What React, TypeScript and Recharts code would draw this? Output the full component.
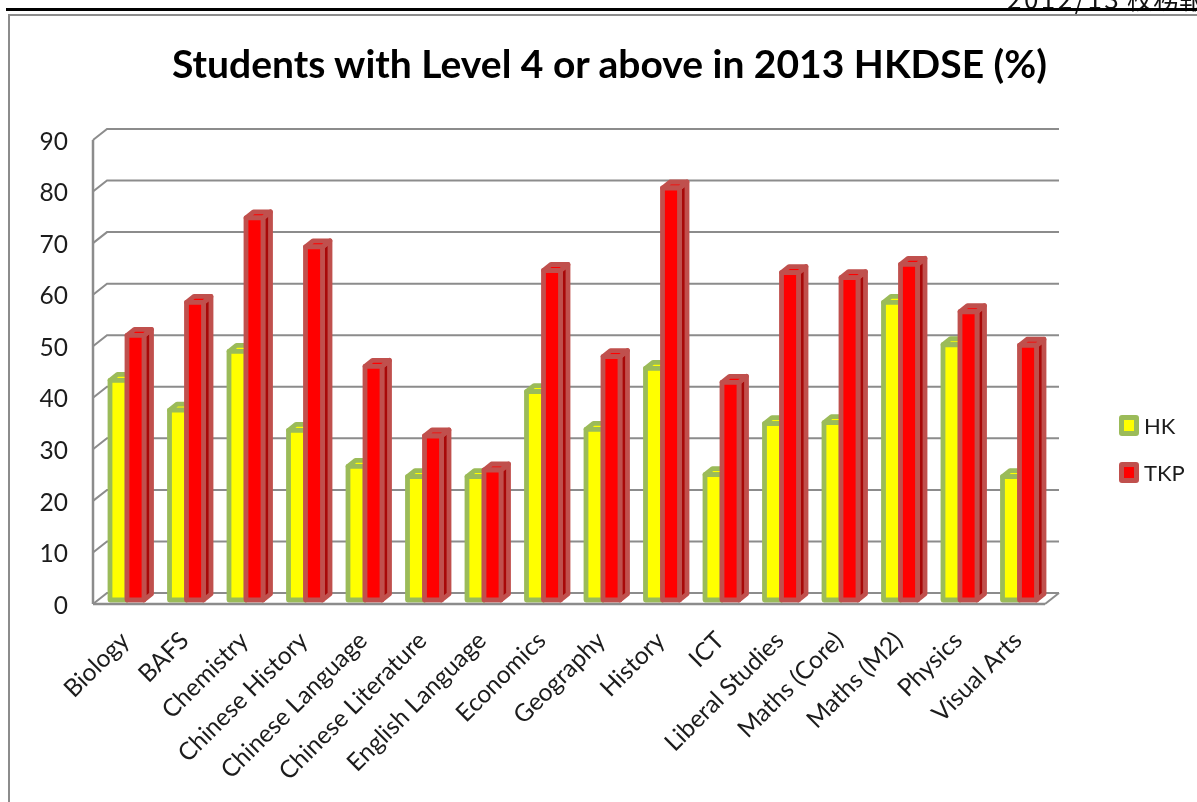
import React from "react";
import { BarChart, Bar, XAxis, YAxis, CartesianGrid, Legend } from "recharts";

const subjects = ["Biology","BAFS","Chemistry","Chinese History","Chinese Language","Chinese Literature","English Language","Economics","Geography","History","ICT","Liberal Studies","Maths (Core)","Maths (M2)","Physics","Visual Arts"];
const hkValues = [43,37.2,48.6,33.3,26.3,24.3,24.3,40.8,33.5,45.3,24.7,34.6,34.8,58.1,49.9,24.3];
const tkpValues = [51.7,58.1,74.5,68.9,45.7,32.2,25.6,64.3,47.6,80.3,42.6,63.9,62.9,65.5,56.3,49.8];
const yTicks = [0,10,20,30,40,50,60,70,80,90];
const title = "Students with Level 4 or above in 2013 HKDSE (%)";
const headerYear = "2012/13";
const headerText = " 校務報告";

const data = subjects.map((subject, i) => ({ subject, HK: hkValues[i], TKP: tkpValues[i] }));

const FONT = "Lato, 'Noto Sans', sans-serif";
const GRID = "#8c8c8c";
const PLOT_BOTTOM = 604;
const DX = 14, DY = 11;

const WallLine = (p: any) => {
  const { x1, y1, x2 } = p;
  const isFloor = Math.abs(y1 - PLOT_BOTTOM) < 1;
  return (
    <g fill="none" stroke={GRID} strokeWidth={2}>
      <path d={`M${x1},${y1}L${x1 + DX},${y1 - DY}L${x2 + DX},${y1 - DY}`} />
      {isFloor && <path d={`M${x2},${y1}L${x2 + DX},${y1 - DY}`} />}
    </g>
  );
};

const makeBar = (fill: string, edge: string, sideFill: string) => (p: any) => {
  const { x, y, width, height } = p;
  if (height == null) return null;
  const bx = x + 4, by = y - 2, w = width, h = height - 2;
  const d = 7.5, e = 6, s = 4.8;
  return (
    <g strokeLinejoin="round">
      <path d={`M${bx + w},${by}L${bx + w + d},${by - e}L${bx + w + d},${by + h - e}L${bx + w},${by + h}Z`} fill={sideFill} stroke={edge} strokeWidth={s} />
      <path d={`M${bx},${by}L${bx + d},${by - e}L${bx + w + d},${by - e}L${bx + w},${by}Z`} fill={fill} stroke={edge} strokeWidth={s} />
      <rect x={bx} y={by} width={w} height={h} fill={fill} stroke={edge} strokeWidth={s} />
    </g>
  );
};

const XTick = (p: any) => {
  const { x, y, payload } = p;
  const tx = x + 8, ty = y + 30;
  return (
    <text x={tx} y={ty} transform={`rotate(-45 ${tx} ${ty})`} textAnchor="end" fontFamily={FONT} fontSize={24.5} fill="#1c1c1c">
      {payload.value}
    </text>
  );
};

const LegendBox = (p: any) => (
  <div>
    {(p.payload || []).map((it: any) => (
      <div key={it.value} style={{ display: "flex", alignItems: "center", height: 47, fontFamily: FONT, fontSize: 22, color: "#1c1c1c" }}>
        <span style={{ display: "inline-block", width: 10, height: 11, background: it.value === "HK" ? "#ffff00" : "#ff0000", border: `5px solid ${it.value === "HK" ? "#9bbb59" : "#c0504d"}`, borderRadius: 3, marginRight: 5 }} />
        {it.value}
      </div>
    ))}
  </div>
);

export default function App() {
  return (
    <div style={{ position: "absolute", left: 0, top: 0, width: 1197, height: 802, overflow: "hidden", background: "#fff", filter: "blur(0.5px)" }}>
      <div style={{ position: "absolute", left: 1007, top: -17, whiteSpace: "pre", fontFamily: "'Noto Sans CJK TC', Lato, sans-serif", fontSize: 26, lineHeight: "30px", color: "#111" }}><span style={{ letterSpacing: 2.5 }}>{headerYear}</span>{headerText}</div>
      <div style={{ position: "absolute", left: 6, right: 0, top: 8, height: 3, background: "#000" }} />
      <div style={{ position: "absolute", left: 8, right: 0, top: 14, bottom: -4, borderTop: "2px solid #8c8c8c", borderLeft: "2.5px solid #8c8c8c", boxSizing: "border-box" }} />
      <div style={{ position: "absolute", left: 0, width: 1219, top: 40, textAlign: "center", whiteSpace: "nowrap", fontFamily: FONT, fontWeight: 700, fontSize: 39, lineHeight: "46px", color: "#000" }}>{title}</div>
      <div style={{ position: "absolute", left: 0, top: 0 }}>
        <BarChart width={1197} height={802} data={data} margin={{ top: 140, right: 152, bottom: 0, left: 0 }} barSize={17} barGap={0} barCategoryGap={12.75}>
          <CartesianGrid vertical={false} horizontal={WallLine} />
          <XAxis dataKey="subject" interval={0} height={198} axisLine={{ stroke: GRID, strokeWidth: 2.5 }} tickLine={false} tick={XTick} />
          <YAxis type="number" domain={[0, 90]} ticks={yTicks} width={93} axisLine={{ stroke: GRID, strokeWidth: 2.5 }} tickLine={false} tickMargin={19} tick={{ fontFamily: FONT, fontSize: 24.5, fill: "#1c1c1c", dy: 1 }} />
          <Bar dataKey="HK" fill="#ffff00" stroke="#9bbb59" isAnimationActive={false} shape={makeBar("#ffff00", "#9bbb59", "#8a8f00")} />
          <Bar dataKey="TKP" fill="#ff0000" stroke="#c0504d" isAnimationActive={false} shape={makeBar("#ff0000", "#c0504d", "#a80808")} />
          <Legend layout="horizontal" align="center" verticalAlign="middle" content={LegendBox} wrapperStyle={{ position: "absolute", left: 1119, top: 402, width: 78 }} />
        </BarChart>
      </div>
    </div>
  );
}
